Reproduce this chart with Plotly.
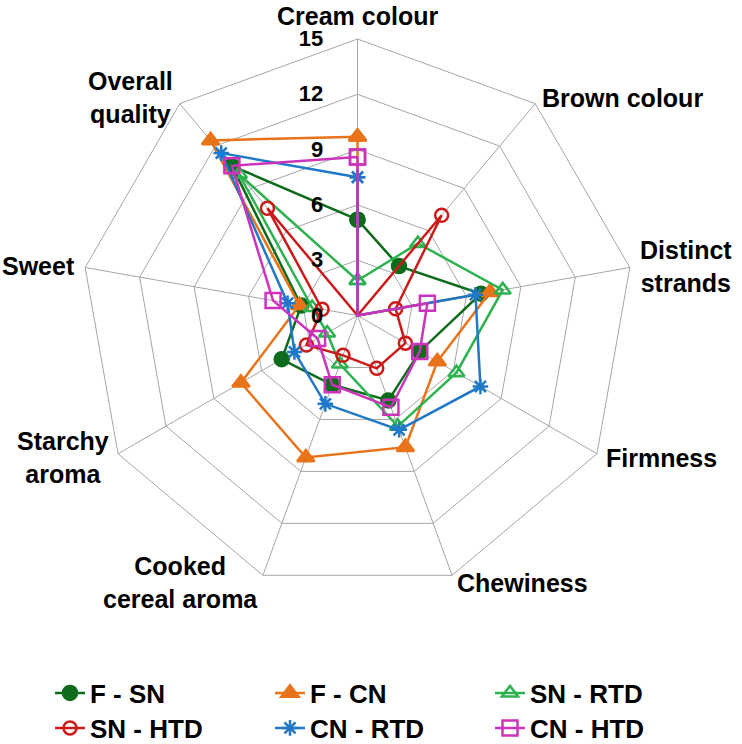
import math
import plotly.graph_objects as go

categories = ["Cream colour", "Brown colour", "Distinct strands", "Firmness", "Chewiness",
              "Cooked cereal aroma", "Starchy aroma", "Sweet", "Overall quality"]
category_labels = ["Cream colour", "Brown colour", "Distinct<br>strands", "Firmness", "Chewiness",
                   "Cooked<br>cereal aroma", "Starchy<br>aroma", "Sweet", "Overall<br>quality"]

f_sn = [5.2, 3.5, 6.8, 3.9, 4.9, 4.0, 4.75, 3.1, 10.6]
f_cn = [9.7, 0.0, 7.3, 5.0, 7.6, 8.2, 7.3, 3.2, 12.4]
sn_rtd = [1.9, 5.1, 8.0, 6.2, 6.4, 2.8, 1.9, 2.5, 10.0]
sn_htd = [0.0, 7.1, 2.1, 3.0, 3.05, 2.3, 3.2, 1.95, 7.6]
cn_rtd = [7.5, 0.0, 6.5, 7.7, 6.6, 5.1, 3.95, 3.85, 11.5]
cn_htd = [8.6, 0.0, 3.85, 3.9, 5.3, 4.0, 2.5, 4.65, 10.6]

radial_ticks = [0, 3, 6, 9, 12, 15]

series = [
    ("F - SN", f_sn, "#0e6b1c", "circle", 14, "legend"),
    ("F - CN", f_cn, "#e8731a", "triangle-up", 15, "legend"),
    ("SN - RTD", sn_rtd, "#2eb24f", "triangle-up-open", 14, "legend"),
    ("SN - HTD", sn_htd, "#cc1a1a", "circle-open", 13, "legend2"),
    ("CN - RTD", cn_rtd, "#1f78c8", "asterisk-open", 13, "legend2"),
    ("CN - HTD", cn_htd, "#cc33bb", "square-open", 15, "legend2"),
]

W, H = 742, 744
# polar geometry in pixels (centre and outer radius of the web)
CX, CY, R = 357.5, 315.5, 276.5
LABEL_PAD = 8

fig = go.Figure()
for name, vals, color, sym, size, leg in series:
    fig.add_trace(go.Scatterpolar(
        r=vals + [vals[0]],
        theta=categories + [categories[0]],
        mode="lines+markers",
        name=name,
        legend=leg,
        line=dict(color=color, width=2.5),
        marker=dict(symbol=sym, size=size, color=color,
                    line=dict(color=color, width=2.5)),
    ))

font_family = "Liberation Sans, Arial, sans-serif"

# category labels placed just outside each vertex of the web
n = len(categories)
for i, lab in enumerate(category_labels):
    ang = math.radians(360.0 * i / n)
    sx, sy = math.sin(ang), -math.cos(ang)
    px = CX + (R + LABEL_PAD) * sx
    py = CY + (R + LABEL_PAD) * sy
    if abs(sx) < 0.2:
        xa = "center"
    elif sx > 0:
        xa = "left"
    else:
        xa = "right"
    ya = "middle"
    if i == 0:
        py, ya = 0, "top"
    fig.add_annotation(
        x=px / W, y=1 - py / H, xref="paper", yref="paper",
        text=lab, showarrow=False, xanchor=xa, yanchor=ya, align="center",
        font=dict(size=25, family=font_family, weight="bold", color="black"),
    )

legend_style = dict(
    orientation="h", x=50 / W, xanchor="left", yanchor="middle",
    entrywidth=175, entrywidthmode="pixels",
    font=dict(size=26, family=font_family, weight="bold"),
    bgcolor="rgba(0,0,0,0)",
)

fig.update_layout(
    width=W, height=H, autosize=False,
    margin=dict(l=0, r=0, t=0, b=0, autoexpand=False),
    paper_bgcolor="white", plot_bgcolor="white",
    font=dict(family=font_family, color="black", size=20),
    polar=dict(
        domain=dict(x=[(CX - R) / W, (CX + R) / W],
                    y=[1 - (CY + R) / H, 1 - (CY - R) / H]),
        gridshape="linear",
        bgcolor="white",
        angularaxis=dict(
            direction="clockwise", rotation=90,
            tickmode="array", tickvals=categories, ticktext=category_labels,
            showticklabels=False,
            showline=True, linecolor="#a6a6a6", linewidth=1,
            gridcolor="#a6a6a6", gridwidth=1,
            ticks="",
        ),
        radialaxis=dict(
            range=[0, 15], tickmode="array", tickvals=radial_ticks,
            ticktext=[str(t) for t in radial_ticks],
            angle=90, tickangle=90, side="counterclockwise",
            showline=False,
            ticks="outside", ticklen=26, tickcolor="rgba(0,0,0,0)",
            gridcolor="#a6a6a6", gridwidth=1,
            tickfont=dict(size=22, family=font_family, weight="bold"),
        ),
    ),
    legend=dict(legend_style, y=1 - 693 / H),
    legend2=dict(legend_style, y=1 - 728 / H),
)

fig.write_html("out.html", config={"displayModeBar": False},
               post_script="document.body.style.margin='0';")
